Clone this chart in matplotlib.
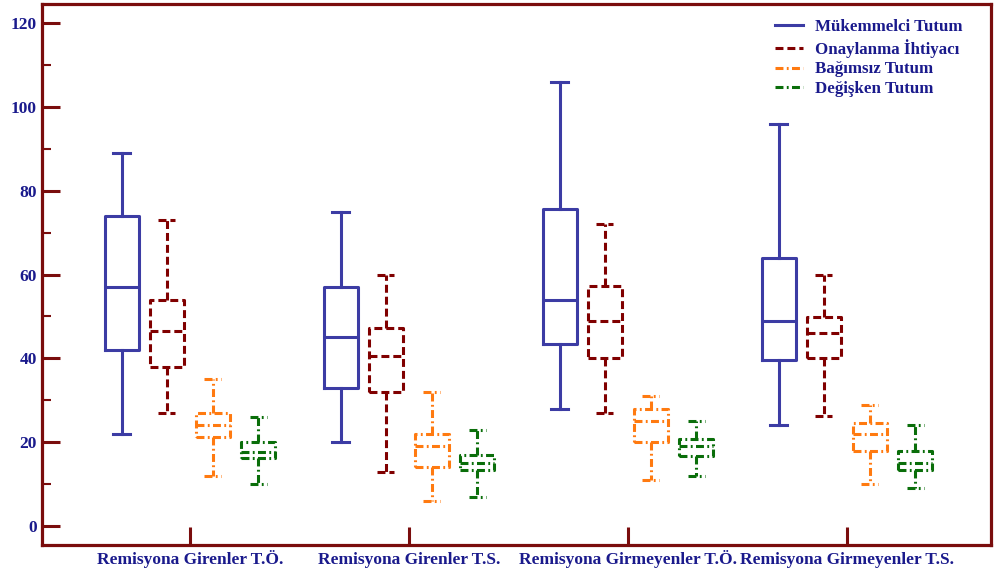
import matplotlib
matplotlib.use("Agg")
import matplotlib.pyplot as plt
from matplotlib.lines import Line2D
from matplotlib.ticker import MultipleLocator

groups = ["Remisyona Girenler T.Ö.", "Remisyona Girenler T.S.",
          "Remisyona Girmeyenler T.Ö.", "Remisyona Girmeyenler T.S."]
series = ["Mükemmelci Tutum", "Onaylanma İhtiyacı", "Bağımsız Tutum", "Değişken Tutum"]

# five-number summaries per series: [whislo, q1, med, q3, whishi] for each group
mukemmelci = [[22, 42, 57, 74, 89], [20, 33, 45, 57, 75],
              [28, 43.4, 54, 75.7, 106], [24, 39.5, 49, 64, 96]]
onaylanma = [[27, 38, 46.5, 54, 73], [13, 32, 40.5, 47.2, 60],
             [27, 40, 49, 57.3, 72], [26.3, 40, 46, 49.8, 60]]
bagimsiz = [[12, 21.2, 24, 27, 35], [6, 14, 19, 22, 32],
            [11, 20, 25, 28, 31], [10, 18, 22, 24.7, 29]]
degisken = [[10, 16.2, 17.7, 20, 26], [7, 13.4, 15, 17, 23],
            [12, 16.8, 19, 20.8, 25], [9, 13.4, 15, 18, 24]]

colors = ["#3c3ca4", "#800000", "#ff7a10", "#0a6e0a"]
styles = ["-", (0, (2.6, 1.3)), (0, (2.6, 1.1, 0.6, 1.1)), (0, (2.6, 1.1, 0.6, 1.1))]
offsets = [-0.311, -0.105, 0.105, 0.311]
navy = "#1a1a8c"
spine_col = "#7a0d0d"

plt.rcParams["font.family"] = ["Liberation Serif", "DejaVu Serif"]
plt.rcParams["font.weight"] = "bold"

fig = plt.figure(figsize=(9.97, 5.77), dpi=100)
ax = fig.add_axes([0.042, 0.0555, 0.952, 0.9375])

all_data = [mukemmelci, onaylanma, bagimsiz, degisken]
for s, data in enumerate(all_data):
    stats = []
    for g in range(4):
        lo, q1, med, q3, hi = data[g]
        stats.append(dict(whislo=lo, q1=q1, med=med, q3=q3, whishi=hi, fliers=[]))
    pos = [g + 1 + offsets[s] for g in range(4)]
    lp = dict(color=colors[s], linewidth=2.2, linestyle=styles[s])
    ax.bxp(stats, positions=pos, widths=0.155, showfliers=False,
           boxprops=lp, whiskerprops=lp, capprops=lp, medianprops=lp,
           manage_ticks=False)

ax.set_xlim(0.324, 4.658)
ax.set_ylim(-4.5, 124.5)
ax.set_xticks([1, 2, 3, 4])
ax.set_xticklabels(groups, va="baseline")
ax.yaxis.set_major_locator(MultipleLocator(20))
ax.yaxis.set_minor_locator(MultipleLocator(10))
ax.tick_params(axis="y", which="major", direction="in", length=13, width=2.2,
               color=spine_col, labelcolor=navy, labelsize=12.5, right=False)
ax.tick_params(axis="y", which="minor", direction="in", length=6.5, width=1.5,
               color=spine_col, right=False)
ax.tick_params(axis="x", which="major", direction="in", length=13, width=2.2,
               color=spine_col, labelcolor=navy, labelsize=12.5, top=False, pad=14)
for lab in ax.get_xticklabels() + ax.get_yticklabels():
    lab.set_fontweight("bold")
for sp in ax.spines.values():
    sp.set_color(spine_col)
    sp.set_linewidth(2.3)

handles = [Line2D([], [], color=colors[i], linestyle=styles[i], linewidth=2.2)
           for i in range(4)]
leg = ax.legend(handles, series, loc="upper right", bbox_to_anchor=(0.97, 0.972),
                frameon=False, fontsize=12.2, handlelength=1.65, handletextpad=0.7,
                labelspacing=0.22, borderaxespad=0, borderpad=0)
for t in leg.get_texts():
    t.set_color(navy)
    t.set_fontweight("bold")

fig.savefig("out.png", dpi=100)
